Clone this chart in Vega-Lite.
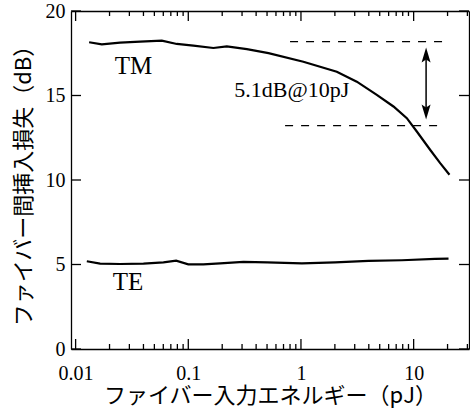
{
  "$schema": "https://vega.github.io/schema/vega-lite/v6.json",
  "width": 398,
  "height": 338,
  "autosize": "none",
  "padding": {"left": 71, "top": 11, "right": 1, "bottom": 59},
  "background": "white",
  "config": {
    "view": {"stroke": null, "fill": null},
    "axis": {
      "zindex": 2, "grid": false,
      "domainColor": "black", "domainWidth": 1.3,
      "labelColor": "black", "titleColor": "black",
      "labelFont": "Liberation Serif", "labelFontSize": 20,
      "titleFont": "Noto Sans CJK JP", "titleFontSize": 22, "titleFontWeight": "normal"
    }
  },
  "datasets": {
    "xmajor": [{"v": 0.01}, {"v": 0.1}, {"v": 1}, {"v": 10}],
    "xminor": [{"v": 0.02}, {"v": 0.03}, {"v": 0.04}, {"v": 0.05}, {"v": 0.06}, {"v": 0.07}, {"v": 0.08}, {"v": 0.09},
               {"v": 0.2}, {"v": 0.3}, {"v": 0.4}, {"v": 0.5}, {"v": 0.6}, {"v": 0.7}, {"v": 0.8}, {"v": 0.9},
               {"v": 2}, {"v": 3}, {"v": 4}, {"v": 5}, {"v": 6}, {"v": 7}, {"v": 8}, {"v": 9},
               {"v": 20}, {"v": 30}],
    "ymajor": [{"v": 0}, {"v": 5}, {"v": 10}, {"v": 15}, {"v": 20}]
  },
  "resolve": {"axis": {"x": "independent", "y": "independent"}},
  "layer": [
    {
      "data": {"values": [
        {"e": 0.01318, "loss": 18.15, "mode": "TM"},
        {"e": 0.01708, "loss": 18.03, "mode": "TM"},
        {"e": 0.0248, "loss": 18.13, "mode": "TM"},
        {"e": 0.0374, "loss": 18.19, "mode": "TM"},
        {"e": 0.0582, "loss": 18.25, "mode": "TM"},
        {"e": 0.0791, "loss": 18.05, "mode": "TM"},
        {"e": 0.111, "loss": 17.95, "mode": "TM"},
        {"e": 0.167, "loss": 17.81, "mode": "TM"},
        {"e": 0.2197, "loss": 17.91, "mode": "TM"},
        {"e": 0.331, "loss": 17.74, "mode": "TM"},
        {"e": 0.515, "loss": 17.51, "mode": "TM"},
        {"e": 1.05, "loss": 17.0, "mode": "TM"},
        {"e": 2.08, "loss": 16.41, "mode": "TM"},
        {"e": 3.13, "loss": 15.82, "mode": "TM"},
        {"e": 4.71, "loss": 15.04, "mode": "TM"},
        {"e": 6.62, "loss": 14.35, "mode": "TM"},
        {"e": 8.7, "loss": 13.66, "mode": "TM"},
        {"e": 10.67, "loss": 12.87, "mode": "TM"},
        {"e": 14.0, "loss": 11.79, "mode": "TM"},
        {"e": 17.2, "loss": 11.0, "mode": "TM"},
        {"e": 20.8, "loss": 10.31, "mode": "TM"},
        {"e": 0.01257, "loss": 5.19, "mode": "TE"},
        {"e": 0.0165, "loss": 5.05, "mode": "TE"},
        {"e": 0.0248, "loss": 5.03, "mode": "TE"},
        {"e": 0.04, "loss": 5.05, "mode": "TE"},
        {"e": 0.0602, "loss": 5.13, "mode": "TE"},
        {"e": 0.078, "loss": 5.23, "mode": "TE"},
        {"e": 0.1, "loss": 5.01, "mode": "TE"},
        {"e": 0.136, "loss": 5.01, "mode": "TE"},
        {"e": 0.1916, "loss": 5.07, "mode": "TE"},
        {"e": 0.3085, "loss": 5.15, "mode": "TE"},
        {"e": 0.5, "loss": 5.13, "mode": "TE"},
        {"e": 1.02, "loss": 5.07, "mode": "TE"},
        {"e": 2.01, "loss": 5.13, "mode": "TE"},
        {"e": 3.97, "loss": 5.21, "mode": "TE"},
        {"e": 7.85, "loss": 5.25, "mode": "TE"},
        {"e": 15.5, "loss": 5.33, "mode": "TE"},
        {"e": 20.4, "loss": 5.35, "mode": "TE"}
      ]},
      "mark": {"type": "line", "color": "black", "strokeWidth": 2.2},
      "encoding": {
        "x": {
          "field": "e", "type": "quantitative",
          "scale": {"type": "log", "domain": [0.0091, 31], "nice": false},
          "axis": {
            "orient": "bottom", "zindex": 2,
            "title": "ファイバー入力エネルギー（pJ）",
            "titlePadding": 2,
            "values": [0.01, 0.1, 1, 10],
            "labelExpr": "datum.value + ''",
            "ticks": false,
            "labelPadding": 14, "labelBaseline": "top", "labelFlush": false, "labelOverlap": false
          }
        },
        "y": {
          "field": "loss", "type": "quantitative",
          "scale": {"domain": [0, 20], "nice": false, "zero": false},
          "axis": {
            "orient": "left", "zindex": 2,
            "title": "ファイバー間挿入損失（dB）",
            "titlePadding": 10,
            "values": [0, 5, 10, 15, 20],
            "ticks": false, "labelPadding": 6, "labelBaseline": "middle"
          }
        },
        "detail": {"field": "mode"}
      }
    },
    {
      "data": {"values": [
        {"x1": 0.80, "x2": 18.4, "y": 18.19},
        {"x1": 0.723, "x2": 16.6, "y": 13.22}
      ]},
      "mark": {"type": "rule", "color": "black", "strokeWidth": 1.4, "strokeDash": [8, 8]},
      "encoding": {
        "x": {
          "field": "x1", "type": "quantitative",
          "axis": {"orient": "top", "zindex": 2, "title": null, "labels": false, "ticks": false, "values": [0.01, 0.1, 1, 10]}
        },
        "x2": {"field": "x2"},
        "y": {
          "field": "y", "type": "quantitative",
          "axis": {"orient": "right", "zindex": 2, "title": null, "labels": false, "ticks": false, "values": [0, 5, 10, 15, 20]}
        }
      }
    },
    {
      "data": {"name": "xmajor"},
      "mark": {"type": "tick", "orient": "vertical", "color": "black", "opacity": 1, "size": 10, "thickness": 1.3, "yOffset": -5},
      "encoding": {
        "x": {"field": "v", "type": "quantitative", "axis": null},
        "y": {"datum": 0, "type": "quantitative", "axis": null}
      }
    },
    {
      "data": {"name": "xminor"},
      "mark": {"type": "tick", "orient": "vertical", "color": "black", "opacity": 1, "size": 5, "thickness": 1.3, "yOffset": -2.5},
      "encoding": {
        "x": {"field": "v", "type": "quantitative", "axis": null},
        "y": {"datum": 0, "type": "quantitative", "axis": null}
      }
    },
    {
      "data": {"name": "xmajor"},
      "mark": {"type": "tick", "orient": "vertical", "color": "black", "opacity": 1, "size": 10, "thickness": 1.3, "yOffset": 5},
      "encoding": {
        "x": {"field": "v", "type": "quantitative", "axis": null},
        "y": {"datum": 20, "type": "quantitative", "axis": null}
      }
    },
    {
      "data": {"name": "xminor"},
      "mark": {"type": "tick", "orient": "vertical", "color": "black", "opacity": 1, "size": 5, "thickness": 1.3, "yOffset": 2.5},
      "encoding": {
        "x": {"field": "v", "type": "quantitative", "axis": null},
        "y": {"datum": 20, "type": "quantitative", "axis": null}
      }
    },
    {
      "data": {"name": "ymajor"},
      "mark": {"type": "tick", "orient": "horizontal", "color": "black", "opacity": 1, "size": 10, "thickness": 1.3, "xOffset": 5},
      "encoding": {
        "y": {"field": "v", "type": "quantitative", "axis": null},
        "x": {"datum": 0.0091, "type": "quantitative", "axis": null}
      }
    },
    {
      "data": {"name": "ymajor"},
      "mark": {"type": "tick", "orient": "horizontal", "color": "black", "opacity": 1, "size": 10, "thickness": 1.3, "xOffset": -5},
      "encoding": {
        "y": {"field": "v", "type": "quantitative", "axis": null},
        "x": {"datum": 31, "type": "quantitative", "axis": null}
      }
    },
    {
      "data": {"values": [{"x": 12.9, "top": 17.4, "bottom": 14.02}]},
      "mark": {"type": "rule", "color": "black", "strokeWidth": 1.5},
      "encoding": {
        "x": {"field": "x", "type": "quantitative", "axis": null},
        "y": {"field": "top", "type": "quantitative", "axis": null},
        "y2": {"field": "bottom"}
      }
    },
    {
      "data": {"values": [
        {"x": 12.9, "y": 17.4, "dir": "up"},
        {"x": 12.9, "y": 14.02, "dir": "down"}
      ]},
      "mark": {"type": "point", "filled": true, "color": "black", "opacity": 1, "size": 225, "strokeWidth": 0},
      "encoding": {
        "x": {"field": "x", "type": "quantitative", "axis": null},
        "y": {"field": "y", "type": "quantitative", "axis": null},
        "shape": {
          "field": "dir", "type": "nominal", "legend": null,
          "scale": {"domain": ["up", "down"], "range": ["M0,-1L0.6,1L0,0.6L-0.6,1Z", "M0,1L0.6,-1L0,-0.6L-0.6,-1Z"]}
        }
      }
    },
    {
      "data": {"values": [
        {"x": 0.0326, "y": 16.26, "label": "TM", "size": 25},
        {"x": 0.0292, "y": 3.47, "label": "TE", "size": 25},
        {"x": 0.83, "y": 14.9, "label": "5.1dB@10pJ", "size": 22}
      ]},
      "mark": {"type": "text", "font": "Liberation Serif", "color": "black", "align": "center", "baseline": "alphabetic"},
      "encoding": {
        "x": {"field": "x", "type": "quantitative", "axis": null},
        "y": {"field": "y", "type": "quantitative", "axis": null},
        "text": {"field": "label"},
        "size": {"field": "size", "type": "quantitative", "scale": null, "legend": null}
      }
    }
  ]
}
